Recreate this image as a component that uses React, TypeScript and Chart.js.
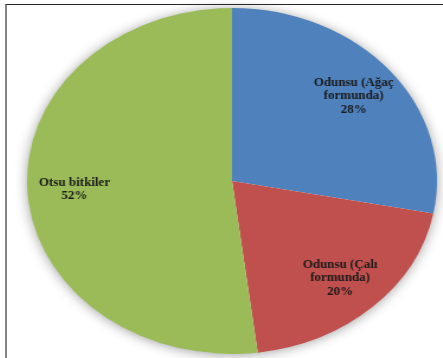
import React, { useEffect, useRef } from "react";
import { Chart, registerables } from "chart.js";

Chart.register(...registerables);

const categories = ["Odunsu (Ağaç formunda)", "Odunsu (Çalı formunda)", "Otsu bitkiler"];
const values = [28, 20, 52];
const labelLines = [["Odunsu (Ağaç", "formunda)"], ["Odunsu (Çalı", "formunda)"], ["Otsu bitkiler"]];
const colors = ["#4F81BD", "#C0504D", "#9BBB59"];

const RX = 205;
const RY = 173;
const SX = RX / RY;
const PAD = 17;
const SIZE = 2 * RY + 2 * PAD;
const CX = 232;
const CY = 181;

const shadowPlugin = {
  id: "pieShadow",
  beforeDatasetsDraw(chart: any) {
    const arc = chart.getDatasetMeta(0).data[0];
    if (!arc) return;
    const { x, y, outerRadius } = arc.getProps(["x", "y", "outerRadius"], true);
    const ctx = chart.ctx;
    ctx.save();
    ctx.shadowColor = "rgba(0,0,0,0.4)";
    ctx.shadowBlur = 12;
    ctx.shadowOffsetX = 0;
    ctx.shadowOffsetY = 1;
    ctx.beginPath();
    ctx.arc(x, y, outerRadius - 0.5, 0, Math.PI * 2);
    ctx.fillStyle = "#ffffff";
    ctx.fill();
    ctx.restore();
  },
};

const labelPlugin = {
  id: "pieLabels",
  afterDatasetsDraw(chart: any) {
    const ctx = chart.ctx;
    const meta = chart.getDatasetMeta(0);
    const total = values.reduce((a, b) => a + b, 0);
    meta.data.forEach((arc: any, i: number) => {
      const { x, y, startAngle, endAngle, outerRadius } = arc.getProps(
        ["x", "y", "startAngle", "endAngle", "outerRadius"],
        true
      );
      const mid = (startAngle + endAngle) / 2;
      const r = outerRadius * 0.77;
      const lx = x + Math.cos(mid) * r;
      const ly = y + Math.sin(mid) * r;
      const lines = [...labelLines[i], Math.round((values[i] / total) * 100) + "%"];
      const lh = 13.5;
      ctx.save();
      ctx.translate(lx, ly);
      ctx.scale(1 / SX, 1);
      ctx.font = "bold 13px 'Liberation Serif', 'Times New Roman', serif";
      ctx.fillStyle = "#1a1a1a";
      ctx.textAlign = "center";
      ctx.textBaseline = "middle";
      const y0 = -((lines.length - 1) * lh) / 2;
      lines.forEach((t, j) => ctx.fillText(t, 0, y0 + j * lh));
      ctx.restore();
    });
  },
};

export default function App() {
  const ref = useRef<HTMLCanvasElement | null>(null);

  useEffect(() => {
    document.body.style.overflow = "hidden";
    const canvas = ref.current;
    if (!canvas) return;
    const chart = new Chart(canvas, {
      type: "pie",
      data: {
        labels: categories,
        datasets: [
          {
            data: values,
            backgroundColor: colors,
            borderWidth: 0,
          },
        ],
      },
      options: {
        responsive: false,
        animation: false,
        layout: { padding: PAD },
        plugins: {
          legend: { display: false },
          tooltip: { enabled: false },
        },
      },
      plugins: [shadowPlugin, labelPlugin],
    } as any);
    return () => chart.destroy();
  }, []);

  return (
    <div
      style={{
        position: "absolute",
        left: 0,
        top: 0,
        width: 443,
        height: 358,
        overflow: "hidden",
        background: "#ffffff",
      }}
    >
      <div
        style={{
          position: "absolute",
          left: CX - SIZE / 2,
          top: CY - SIZE / 2,
          width: SIZE,
          height: SIZE,
          transform: `scaleX(${SX})`,
          transformOrigin: "50% 50%",
        }}
      >
        <canvas ref={ref} width={SIZE} height={SIZE} style={{ display: "block" }} />
      </div>
      <div
        style={{
          position: "absolute",
          left: 5,
          top: 4,
          width: 438,
          height: 354,
          boxSizing: "border-box",
          borderTop: "1px solid #262626",
          borderLeft: "2px solid #858585",
          pointerEvents: "none",
        }}
      />
    </div>
  );
}
